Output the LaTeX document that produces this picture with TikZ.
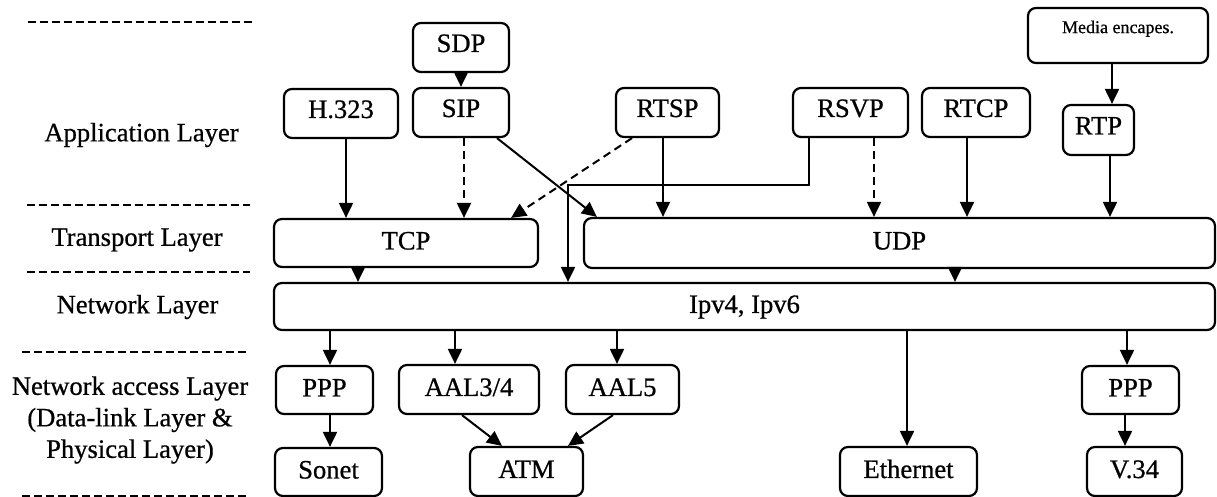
\documentclass[tikz,border=0pt]{standalone}
\usepackage{fontspec}
\setmainfont{Liberation Serif}
\newfontfamily\heavyserif{Liberation Serif}[FakeBold=0.7]
\usetikzlibrary{arrows.meta,calc}

\begin{document}
\begin{tikzpicture}[x=0.5pt,y=-0.5pt,
  box/.style={draw,line width=1.1pt,rounded corners=4pt,inner sep=0pt,
    font=\heavyserif\fontsize{13.3}{15}\selectfont,text height=9.5pt,text depth=3pt},
  appbox/.style={box,text depth=5pt},
  arr/.style={line width=1pt,-{Triangle[width=7pt,length=7.5pt]}},
  darr/.style={arr,dash pattern=on 4pt off 2.5pt},
  sep/.style={line width=1.2pt,dash pattern=on 4pt off 2pt},
  layer/.style={font=\heavyserif\fontsize{13.3}{15.75}\selectfont,align=center}]
\useasboundingbox (0,0) rectangle (1217,497);

% layer separators
\draw[sep] (28,22) -- (252,22);
\draw[sep] (27,205) -- (250,205);
\draw[sep] (27,272) -- (250,272);
\draw[sep] (22,352) -- (248,352);
\draw[sep] (22,496) -- (248,496);

% layer names
\node[layer] (app) at (141.5,135) {Application Layer};
\node[layer] (tra) at (137,240) {Transport Layer};
\node[layer] (net) at (137.5,307) {Network Layer};
\node[layer] (acc) at (130,420) {Network access Layer\\(Data-link Layer \&\\Physical Layer)};

% application layer
\node[appbox,minimum width=48pt,minimum height=24.5pt] (sdp) at (461,47.5) {SDP};
\node[appbox,minimum width=48pt,minimum height=24.5pt] (sip) at (461,112.5) {SIP};
\node[appbox,minimum width=57pt,minimum height=24.5pt] (h323) at (341,113.5) {H.323};
\node[appbox,minimum width=51.5pt,minimum height=24.5pt] (rtsp) at (667.5,112.5) {RTSP};
\node[appbox,minimum width=57.5pt,minimum height=24.5pt] (rsvp) at (850.5,112.5) {RSVP};
\node[appbox,minimum width=54pt,minimum height=24.5pt] (rtcp) at (976,112.5) {RTCP};
\node[box,minimum width=90pt,minimum height=27.5pt,font=\heavyserif\fontsize{9}{10}\selectfont,
      text height=6pt,text depth=8.4pt] (media) at (1118,35.5) {Media encapes.};
\node[appbox,minimum width=35.5pt,minimum height=25pt] (rtp) at (1098.5,130) {RTP};

% transport and network layers
\node[box,minimum width=132pt,minimum height=24pt] (tcp) at (406,243) {TCP};
\node[box,minimum width=315.5pt,minimum height=25pt] (udp) at (899.5,243) {UDP};
\node[box,minimum width=470.5pt,minimum height=23.5pt] (ip) at (744.5,306.5) {Ipv4, Ipv6};

% network access layer
\node[box,minimum width=48.5pt,minimum height=24pt] (ppp1) at (324.5,390) {PPP};
\node[box,minimum width=70pt,minimum height=24.5pt] (aal34) at (469,389.5) {AAL3/4};
\node[box,minimum width=56.5pt,minimum height=24.5pt] (aal5) at (622.5,389.5) {AAL5};
\node[box,minimum width=48.5pt,minimum height=24pt] (ppp2) at (1130.5,390) {PPP};
\node[box,minimum width=53.5pt,minimum height=24pt] (sonet) at (328.5,472) {Sonet};
\node[box,minimum width=56.5pt,minimum height=24.5pt] (atm) at (526.5,471.5) {ATM};
\node[box,minimum width=68.5pt,minimum height=24.5pt] (eth) at (908.5,471.5) {Ethernet};
\node[box,minimum width=47.5pt,minimum height=24.5pt] (v34) at (1134.5,471.5) {V.34};

% connector end points
\coordinate (h1) at ($(h323.south)+(5,0)$);
\coordinate (s1) at ($(sip.south)+(3,0)$);
\coordinate (s2) at ($(sip.south)+(36,0)$);
\coordinate (u0) at ($(udp.north west)+(14,0)$);
\coordinate (r1) at ($(rtsp.south)+(-35.5,0)$);
\coordinate (t0) at ($(tcp.north east)+(-28,0)$);
\coordinate (r2) at ($(rtsp.south)+(-4.5,0)$);
\coordinate (v1) at ($(rsvp.south)+(-41.5,0)$);
\coordinate (bend) at (568,185);
\coordinate (v2) at ($(rsvp.south)+(23.5,0)$);
\coordinate (c1) at ($(rtcp.south)+(-9,0)$);
\coordinate (m1) at ($(media.south)+(-6,0)$);
\coordinate (p1) at ($(rtp.south)+(11.5,0)$);
\coordinate (t1) at ($(tcp.south)+(-48,0)$);
\coordinate (u1) at ($(udp.south)+(55.5,0)$);
\coordinate (n1) at ($(ppp1.north)+(5.5,0)$);
\coordinate (n2) at ($(aal34.north)+(-14,0)$);
\coordinate (n3) at ($(aal5.north)+(-5.5,0)$);
\coordinate (n4) at ($(eth.north)+(-1.5,0)$);
\coordinate (n5) at ($(ppp2.north)+(-3.5,0)$);
\coordinate (a1) at ($(aal34.south)+(-7,0)$);
\coordinate (a2) at ($(atm.north)+(-24.5,0)$);
\coordinate (a3) at ($(aal5.south)+(-9.5,0)$);
\coordinate (a4) at ($(atm.north)+(41.5,0)$);
\coordinate (q1) at ($(sonet.north)+(1.5,0)$);
\coordinate (q2) at ($(v34.north)+(-9.5,0)$);

% application to transport
\draw[arr] (sdp.south) -- (sip.north);
\draw[arr] (h1) -- (h1 |- tcp.north);
\draw[darr] (s1) -- (s1 |- tcp.north);
\draw[arr] (s2) -- (u0);
\draw[darr] (r1) -- (t0);
\draw[arr] (r2) -- (r2 |- udp.north);
\draw[arr] (v1) |- (bend) -- (bend |- ip.north);
\draw[darr] (v2) -- (v2 |- udp.north);
\draw[arr] (c1) -- (c1 |- udp.north);
\draw[arr] (m1) -- (m1 |- rtp.north);
\draw[arr] (p1) -- (p1 |- udp.north);

% transport to network
\draw[arr] (t1) -- (t1 |- ip.north);
\draw[arr] (u1) -- (u1 |- ip.north);

% network to access
\draw[arr] (n1 |- ip.south) -- (n1);
\draw[arr] (n2 |- ip.south) -- (n2);
\draw[arr] (n3 |- ip.south) -- (n3);
\draw[arr] (n4 |- ip.south) -- (n4);
\draw[arr] (n5 |- ip.south) -- (n5);
\draw[arr] (q1 |- ppp1.south) -- (q1);
\draw[arr] (a1) -- (a2);
\draw[arr] (a3) -- (a4);
\draw[arr] (q2 |- ppp2.south) -- (q2);
\end{tikzpicture}
\end{document}
